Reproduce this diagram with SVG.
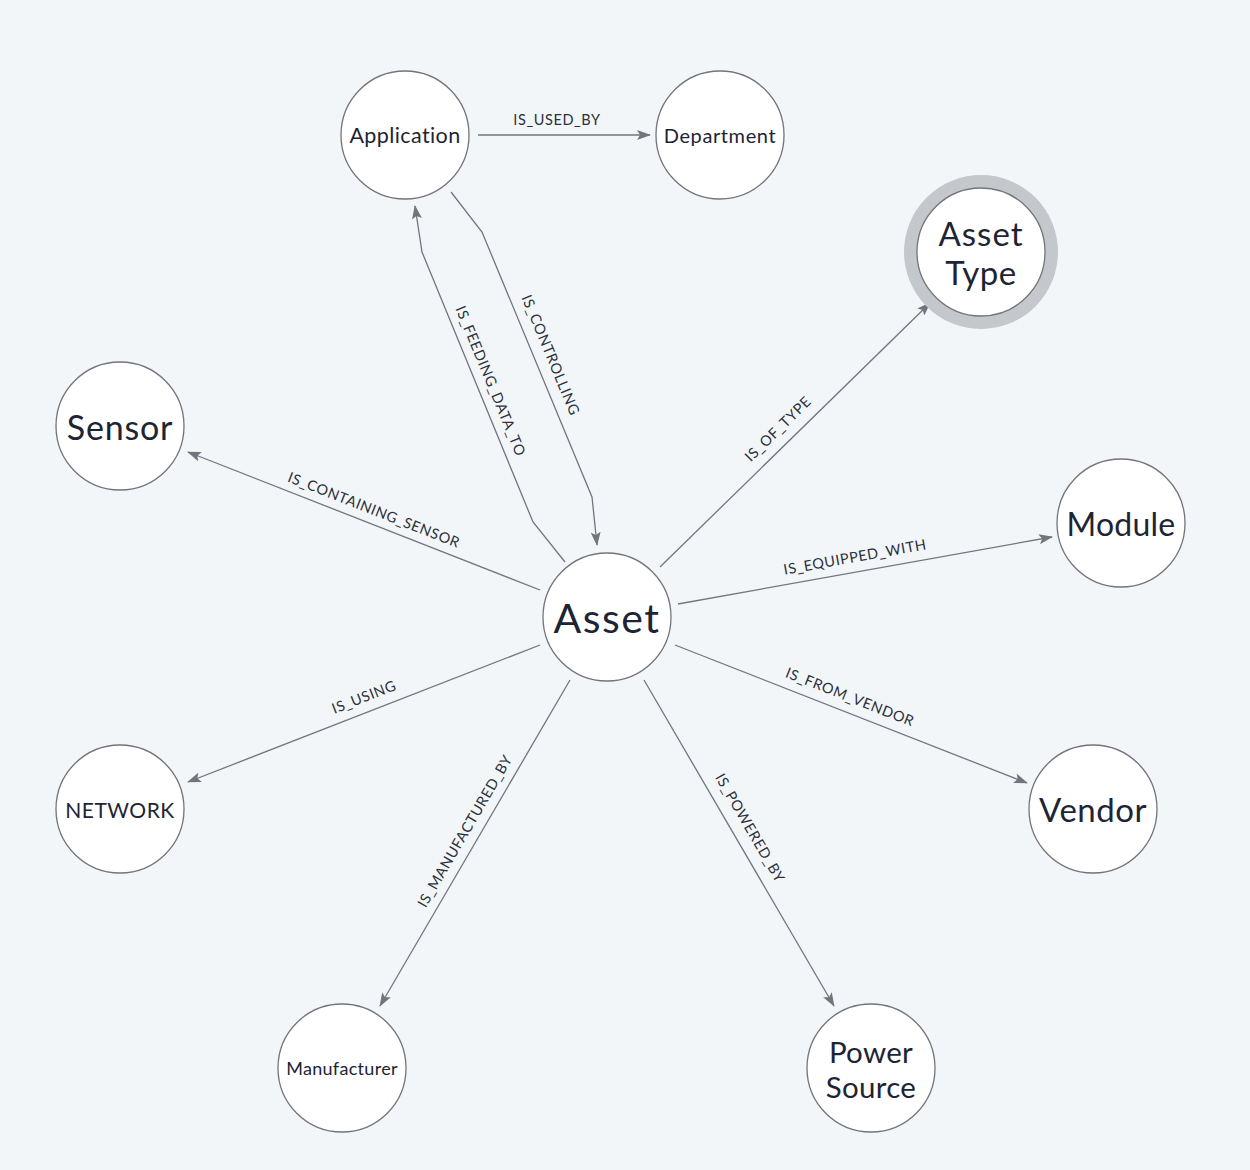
<svg xmlns="http://www.w3.org/2000/svg" width="1250" height="1170" viewBox="0 0 1250 1170">
<style>
.bg{fill:#f3f6f9}
.node{fill:#ffffff;stroke:#71757d;stroke-width:1.3}
.ring{fill:none;stroke:#c4c7cb;stroke-width:13}
.nt{font-family:Lato,"Noto Sans","Liberation Sans",sans-serif;fill:#1d2433;text-anchor:middle;dominant-baseline:central}
.edge{fill:none;stroke:#71757d;stroke-width:1.3}
.lbl{font-family:Lato,"Noto Sans","Liberation Sans",sans-serif;font-size:14.5px;letter-spacing:0.6px;fill:#2b303a;text-anchor:middle}
</style>
<defs>
<marker id="arr" markerWidth="14" markerHeight="10" refX="13" refY="5" orient="auto" markerUnits="userSpaceOnUse">
<path d="M0,0 L14,5 L0,10 L3,5 Z" fill="#71757d"/>
</marker>
</defs>
<rect class="bg" x="0" y="0" width="1250" height="1170"/>
<g id="connectors">
<path class="edge" d="M478,135 L650,135" marker-end="url(#arr)"/>
<path class="edge" d="M565,562 L533,522 L422,252 L415,206" marker-end="url(#arr)"/>
<path class="edge" d="M451,192 L482,232 L592,497 L597,545" marker-end="url(#arr)"/>
<path class="edge" d="M660,567 L930,303" marker-end="url(#arr)"/>
<path class="edge" d="M540,590 L188,452" marker-end="url(#arr)"/>
<path class="edge" d="M678,604 L1052,537" marker-end="url(#arr)"/>
<path class="edge" d="M675,645 L1027,783" marker-end="url(#arr)"/>
<path class="edge" d="M540,645 L188,782" marker-end="url(#arr)"/>
<path class="edge" d="M570,680 L380,1006" marker-end="url(#arr)"/>
<path class="edge" d="M644,680 L834,1006" marker-end="url(#arr)"/>
<text class="lbl" x="557" y="125">IS_USED_BY</text>
<text class="lbl" transform="translate(486,383) rotate(67.6)" x="0" y="0">IS_FEEDING_DATA_TO</text>
<text class="lbl" transform="translate(546,357) rotate(67.5)" x="0" y="0">IS_CONTROLLING</text>
<text class="lbl" transform="translate(778,429) rotate(-44.4)" x="0" y="5">IS_OF_TYPE</text>
<text class="lbl" transform="translate(374,510) rotate(21.4)" x="0" y="5">IS_CONTAINING_SENSOR</text>
<text class="lbl" transform="translate(855,557) rotate(-10.2)" x="0" y="5">IS_EQUIPPED_WITH</text>
<text class="lbl" transform="translate(850,697) rotate(21.4)" x="0" y="5">IS_FROM_VENDOR</text>
<text class="lbl" transform="translate(364,697) rotate(-21.3)" x="0" y="5">IS_USING</text>
<text class="lbl" transform="translate(465,831) rotate(-59.8)" x="0" y="5">IS_MANUFACTURED_BY</text>
<text class="lbl" transform="translate(750,828) rotate(59.8)" x="0" y="5">IS_POWERED_BY</text>
</g>
<g id="node-application"><circle class="node" cx="405" cy="135" r="64"/><text class="nt" x="405" y="135" font-size="21.5" letter-spacing="0.4">Application</text></g>
<g id="node-department"><circle class="node" cx="720" cy="135" r="64"/><text class="nt" x="720" y="135" font-size="20" letter-spacing="0.6">Department</text></g>
<g id="node-asset-type"><circle class="ring" cx="981" cy="252" r="70.5"/><circle class="node" cx="981" cy="252" r="64"/><text class="nt" x="981" y="233" font-size="33" letter-spacing="1">Asset</text><text class="nt" x="981" y="272" font-size="33" letter-spacing="0.5">Type</text></g>
<g id="node-sensor"><circle class="node" cx="120" cy="426" r="64"/><text class="nt" x="120" y="426" font-size="34" letter-spacing="0.8">Sensor</text></g>
<g id="node-module"><circle class="node" cx="1121" cy="523" r="64"/><text class="nt" x="1121" y="523" font-size="32" letter-spacing="0.2">Module</text></g>
<g id="node-asset"><circle class="node" cx="607" cy="617" r="64"/><text class="nt" x="607" y="617" font-size="41" letter-spacing="1.5">Asset</text></g>
<g id="node-network"><circle class="node" cx="120" cy="809" r="64"/><text class="nt" x="120" y="809" font-size="21" letter-spacing="0.5">NETWORK</text></g>
<g id="node-vendor"><circle class="node" cx="1093" cy="809" r="64"/><text class="nt" x="1093" y="809" font-size="33" letter-spacing="0.5">Vendor</text></g>
<g id="node-manufacturer"><circle class="node" cx="342" cy="1068" r="64"/><text class="nt" x="342" y="1068" font-size="18" letter-spacing="0.3">Manufacturer</text></g>
<g id="node-power-source"><circle class="node" cx="871" cy="1068" r="64"/><text class="nt" x="871" y="1051" font-size="29.5" letter-spacing="0.3">Power</text><text class="nt" x="871" y="1086" font-size="29.5" letter-spacing="0.3">Source</text></g>
</svg>
